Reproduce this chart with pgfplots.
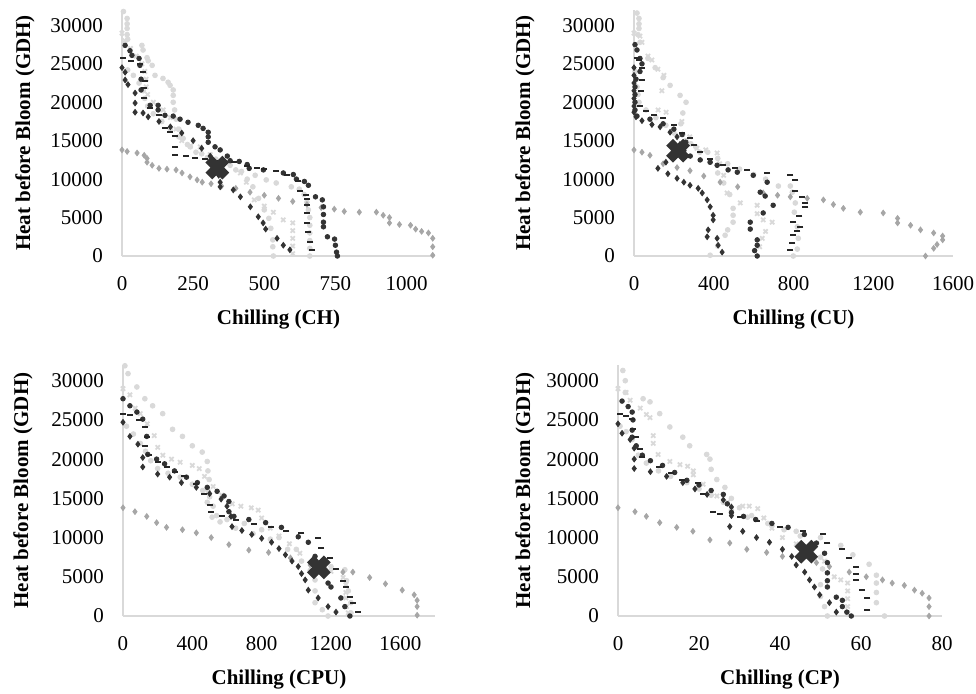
\documentclass[border=0pt]{standalone}
\usepackage{fontspec}
\setmainfont{Liberation Serif}
\usepackage{pgfplots}
\pgfplotsset{compat=1.18}

\definecolor{dk}{HTML}{333333}
\definecolor{dsh}{HTML}{262626}
\definecolor{lt}{HTML}{D9D9D9}
\definecolor{md}{HTML}{A6A6A6}
\definecolor{axc}{HTML}{D9D9D9}

\pgfplotsset{
  chill/.style={
    scale only axis,
    axis x line*=bottom, axis y line*=left,
    axis line style={draw=axc, line width=1pt},
    ymin=0, ymax=32000, ytick={0,5000,...,30000},
    scaled ticks=false,
    /pgf/number format/1000 sep={},
    /pgf/number format/assume math mode=true,
    major tick length=0pt,
    tick label style={font=\fontsize{10.5}{12}\selectfont},
    yticklabel style={xshift=-6pt},
    xticklabel style={yshift=-6.5pt},
    every axis x label/.style={at={(axis description cs:0.5,0)}, anchor=center, yshift=-32pt,
      font=\bfseries\fontsize{10.5}{12}\selectfont},
    every axis y label/.style={at={(axis description cs:0,0.5)}, rotate=90, anchor=center,
      font=\bfseries\fontsize{10.5}{12}\selectfont},
    ylabel={Heat before Bloom (GDH)},
    clip=false,
  },
  ltc/.style={only marks, mark=*, mark size=1.2pt, color=lt},
  ltx/.style={only marks, mark=x, mark size=1.5pt, line width=0.9pt, color=lt},
  mdd/.style={only marks, mark=diamond*, mark size=1.4pt, color=md},
  dkc/.style={only marks, mark=*, mark size=1.15pt, color=dk},
  dkd/.style={only marks, mark=diamond*, mark size=1.4pt, color=dk},
  dsh/.style={only marks, mark=-, mark size=1.5pt, line width=1pt, color=dsh},
  bigx/.style={only marks, mark=x, mark size=6pt, line width=4.8pt, color=dk},
}

\begin{document}
\begin{tikzpicture}
\path[use as bounding box] (0,0) rectangle (488pt,346.5pt);

% ---------- CH ----------
\begin{axis}[chill, at={(61pt,218.5pt)}, anchor=south west, width=156.5pt, height=123pt,
  xmin=0, xmax=1100, xtick={0,250,...,1000}, xlabel={Chilling (CH)},
  ylabel style={yshift=48.5pt}]
\addplot[ltc] coordinates {(5,31800) (18,30900) (18,30200) (18,29600) (18,28800) (20,28200) (70,27400) (74,26800) (88,25800) (92,25400) (106,24800) (116,23500) (144,23100) (162,22600) (169,22200) (180,21600) (180,20900) (180,20000) (185,19000) (190,17800) (200,16500) (215,15300) (240,14200) (280,13300) (330,12600) (380,11800) (420,11000) (440,10000) (460,9000) (480,7500) (500,6000) (516,4900) (523,3600) (530,2100) (530,1200) (532,0)};
\addplot[ltc] coordinates {(20,24200) (40,23500) (60,22500) (75,21500) (80,20500) (90,19500) (110,18500) (140,17500) (170,16500) (200,15500) (230,14500) (260,13500) (300,12800) (350,12000) (400,11200) (468,10500) (507,9900) (542,9500) (595,9000) (623,8700) (640,8000) (650,7000) (655,6000) (660,5000) (660,4000) (660,3000) (660,2000) (660,1000) (660,0)};
\addplot[ltx] coordinates {(0,29000) (10,28000) (30,27000) (50,26000) (70,25000) (80,24000) (85,23000) (85,22000) (90,21000) (110,20000) (145,19000) (170,18000) (190,16500) (210,15000) (240,14300) (275,14200) (310,13200) (350,12300) (416,10800) (437,9600) (465,7300) (500,6500) (532,5700) (567,4700) (600,4300) (600,3300) (600,2300) (600,1300) (600,300)};
\addplot[mdd] coordinates {(0,13800) (18,13600) (53,13400) (78,13100) (88,12700) (88,12200) (106,11800) (130,11400) (158,11300) (190,11200) (211,10800) (239,10300) (264,9900) (282,9600) (313,9400) (350,9100) (400,8800) (450,8300) (500,7900) (550,7500) (600,7100) (650,6700) (700,6300) (746,6100) (781,5800) (834,5700) (894,5700) (918,5300) (940,5000) (940,4300) (975,4100) (1014,4000) (1032,3500) (1053,3200) (1077,3000) (1092,2300) (1092,1200) (1092,100)};
\addplot[dkd] coordinates {(0,24500) (11,23900) (11,22900) (21,22300) (46,21200) (46,19900) (46,18700) (74,18600) (92,18100) (130,17500) (170,16800) (210,16000) (250,15000) (280,14000) (310,13000) (335,12000) (340,10500) (345,9600) (345,9000) (391,8600) (416,7700) (451,6400) (479,5100) (496,4300) (505,3500) (545,2300) (567,1400) (590,800)};
\addplot[dkc] coordinates {(11,27400) (28,26700) (35,26100) (60,25700) (63,24800) (67,23000) (67,21600) (99,19600) (127,19600) (127,19000) (151,18300) (180,18200) (204,17800) (232,17400) (268,17000) (285,16600) (303,16100) (303,15500) (303,14800) (327,14200) (345,13800) (370,13000) (380,12400) (412,12300) (440,11900) (447,11400) (497,11200) (567,10800) (602,10600) (613,10000) (641,9700) (655,9200) (680,7700) (704,7300) (708,6400) (708,5400) (708,4400) (708,3800) (722,2500) (747,2200) (750,1400) (754,500) (757,0)};
\addplot[dsh] coordinates {(4,25700) (32,25400) (63,25000) (74,23900) (81,22800) (78,21900) (78,20600) (99,19300) (130,18400) (151,16700) (169,16100) (187,15600) (187,14200) (187,13100) (225,13000) (257,12700) (292,12600) (330,12400) (394,12200) (440,11700) (475,11400) (500,11300) (542,11000) (580,10500) (620,9700) (627,8500) (648,7900) (651,7400) (651,6600) (651,5600) (651,4300) (655,3100) (662,1800) (666,800)};
\addplot[bigx] coordinates {(335,11500)};
\end{axis}

% ---------- CU ----------
\begin{axis}[chill, at={(317pt,218.5pt)}, anchor=south west, width=159.5pt, height=123pt,
  xmin=0, xmax=1600, xtick={0,400,...,1600}, xlabel={Chilling (CU)},
  ylabel style={yshift=54.5pt}]
\addplot[ltc] coordinates {(15,31600) (25,30900) (25,30200) (25,29600) (20,28800) (30,27800) (70,25700) (106,24500) (146,23200) (181,22200) (231,20900) (261,20000) (245,18600) (235,17200) (245,15800) (285,14600) (330,13500) (380,12200) (420,10800) (450,9500) (480,8000) (497,6200) (497,5300) (497,4400) (470,3400) (457,2700) (420,1300) (382,100)};
\addplot[ltc] coordinates {(5,24000) (10,23000) (15,22000) (20,21000) (25,20000) (60,19000) (110,18000) (160,17000) (200,16000) (260,15000) (310,14200) (370,13500) (420,12700) (470,12000) (530,11300) (600,10600) (660,10000) (724,9100) (784,9100) (794,8300) (809,6900) (804,5700) (819,3800) (824,2300) (819,900) (799,0)};
\addplot[ltx] coordinates {(0,29000) (30,28600) (40,27800) (70,26000) (90,25500) (120,24300) (150,23500) (140,21500) (121,19000) (161,18700) (240,17500) (280,15500) (316,14000) (360,13800) (417,13400) (430,12000) (450,10500) (467,8200) (533,6900) (618,6600) (618,5500) (648,4700) (693,4400) (660,3200) (643,2300) (630,1200)};
\addplot[mdd] coordinates {(0,13800) (40,13500) (80,13100) (146,12000) (216,11500) (281,11100) (350,10400) (432,9600) (520,9000) (648,8200) (720,7900) (784,7700) (869,7500) (950,7300) (1000,6700) (1050,6200) (1135,5700) (1250,5600) (1322,4900) (1322,4300) (1387,4000) (1437,3400) (1503,3000) (1548,2600) (1548,2100) (1520,1500) (1503,1000) (1462,0)};
\addplot[dkd] coordinates {(0,24500) (0,23500) (0,22500) (0,21500) (0,20500) (0,19500) (0,18700) (10,18100) (40,17600) (90,17100) (131,16800) (181,16100) (216,15500) (230,14500) (200,13200) (160,12200) (120,11400) (170,10700) (216,10100) (250,9600) (281,9200) (322,8800) (342,8200) (367,7300) (382,6400) (397,5300) (397,4700) (372,3400) (367,2500) (417,2300) (422,1400) (442,500)};
\addplot[dkc] coordinates {(5,27500) (15,26800) (30,25700) (40,25000) (30,24000) (10,23000) (5,22000) (5,21000) (5,20000) (5,19000) (15,18200) (80,17800) (146,17200) (200,16500) (241,15800) (260,14800) (250,13700) (282,13000) (332,12500) (382,12200) (417,11800) (472,11200) (518,10900) (598,10500) (668,9600) (633,8300) (658,7800) (698,6600) (648,5600) (583,4400) (583,3500) (618,2100) (618,1400) (605,700) (618,0)};
\addplot[dsh] coordinates {(15,25700) (25,25500) (40,24500) (40,22900) (35,21500) (30,19500) (60,18800) (100,18300) (146,17900) (200,17000) (241,16000) (281,15300) (300,14500) (330,13500) (380,12600) (447,11800) (508,11500) (568,11200) (668,10800) (784,10500) (809,9900) (809,8400) (844,7700) (859,6900) (859,6400) (830,5200) (799,4400) (834,3800) (820,3200) (799,2700) (794,1700) (784,800)};
\addplot[bigx] coordinates {(221,13700)};
\end{axis}

% ---------- CPU ----------
\begin{axis}[chill, at={(61.5pt,38.5pt)}, anchor=south west, width=156pt, height=125.5pt,
  xmin=0, xmax=1800, xtick={0,400,...,1600}, xlabel={Chilling (CPU)},
  ylabel style={yshift=50pt}]
\addplot[ltc] coordinates {(11,31900) (29,30900) (80,29200) (126,27700) (171,26800) (229,25800) (286,23800) (343,22900) (400,21700) (457,20900) (486,19700) (490,18500) (497,17400) (490,16000) (486,14500) (514,12600) (560,12000) (650,11200) (750,10500) (850,9800) (950,8500) (1030,7000) (1080,5800) (1108,4600) (1108,3200) (1108,1700) (1150,800) (1183,0)};
\addplot[ltc] coordinates {(20,24200) (60,23200) (100,22000) (130,21000) (160,19800) (200,18800) (260,18200) (330,17700) (400,16800) (460,16000) (500,15200) (520,14000) (540,12800) (600,12300) (700,11800) (800,11000) (900,10000) (1000,8500) (1100,7200) (1200,6300) (1280,5900) (1290,4500) (1300,3200) (1315,1700) (1315,400)};
\addplot[ltx] coordinates {(0,29000) (40,28200) (70,26500) (100,25800) (140,24500) (180,23000) (200,21500) (230,20500) (280,20000) (330,19600) (400,19200) (440,18800) (470,17800) (520,16500) (570,15400) (630,14300) (680,14000) (740,13800) (780,13500) (800,12500) (850,11200) (900,10200) (960,9200) (1020,8000) (1100,6800) (1200,5700) (1270,4900) (1286,4000) (1286,3000) (1286,2300) (1290,1200) (1300,400)};
\addplot[mdd] coordinates {(0,13800) (69,13300) (137,12700) (194,11900) (251,11300) (343,11000) (423,10600) (509,10000) (611,9100) (726,8400) (840,8100) (966,7400) (1080,6500) (1171,5900) (1269,5600) (1326,5600) (1423,4900) (1514,4100) (1611,3300) (1680,2700) (1697,2000) (1697,1200) (1697,100)};
\addplot[dkd] coordinates {(0,24700) (40,22900) (86,21900) (114,20200) (114,19000) (200,18100) (269,17700) (337,17000) (423,16400) (500,15600) (566,14900) (600,14000) (623,12700) (629,11400) (686,10900) (743,10400) (800,9900) (857,9400) (900,8600) (937,7800) (975,7000) (1011,6300) (1030,5400) (1051,4600) (1069,3300) (1126,2300) (1183,1200) (1229,500)};
\addplot[dkc] coordinates {(0,27700) (40,26800) (80,26000) (114,25100) (137,22900) (143,20600) (194,20000) (240,19400) (297,18500) (366,17700) (429,17000) (486,16400) (543,15900) (583,15300) (611,14600) (611,13300) (640,12700) (726,12300) (823,11900) (914,11300) (1011,10100) (1069,9400) (1108,7600) (1154,5600) (1183,4200) (1200,3700) (1257,2300) (1280,1200) (1309,0)};
\addplot[dsh] coordinates {(0,25800) (40,25600) (90,25000) (126,24100) (137,22800) (126,21700) (150,20500) (200,19600) (251,19000) (300,18400) (354,17800) (420,16800) (470,15500) (500,14200) (509,13300) (571,12700) (650,12300) (754,11700) (851,11300) (943,10800) (1029,10600) (1126,10000) (1143,8700) (1194,7400) (1230,6000) (1269,4400) (1286,3700) (1309,2400) (1326,1700) (1354,500)};
\addplot[bigx] coordinates {(1130,6200)};
\end{axis}

% ---------- CP ----------
\begin{axis}[chill, at={(309pt,38.5pt)}, anchor=south west, width=162pt, height=125.5pt,
  xmin=0, xmax=80, xtick={0,20,...,80}, xlabel={Chilling (CP)},
  ylabel style={yshift=46.5pt}]
\addplot[ltc] coordinates {(1.2,31300) (1.8,30000) (1.8,28500) (6.2,27700) (7.9,27300) (10.3,25800) (12.8,24100) (16,22800) (17.7,21700) (21.9,20600) (22.7,20000) (23,18700) (24.4,17400) (26.4,16400) (28,15000) (30,13800) (33,12800) (37,11800) (41,11000) (45,10200) (48,9000) (50,7500) (50.5,6000) (50,4000) (50,2500) (51,1200) (51.7,0)};
\addplot[ltc] coordinates {(0.5,24200) (2,23500) (3.5,22500) (4.5,21500) (5,20500) (7,19500) (10,18500) (13,17800) (17,17000) (20,16200) (23,15400) (26,14500) (28,13500) (32,12600) (38,11500) (44,10800) (50,10000) (55,9000) (58,7800) (62,6600) (63.8,5200) (63.8,4200) (63.8,3000) (63.8,1700) (65.8,0)};
\addplot[ltx] coordinates {(0,29000) (2,28500) (3,27500) (5.5,26500) (7,25700) (7.9,25300) (8.7,23000) (8.7,22000) (9.9,20600) (12.8,19700) (15.3,19300) (17.2,19100) (18.6,18500) (18.6,18000) (21,16800) (24.4,15300) (27,14500) (30.8,14000) (32.4,14000) (34.5,13700) (36,12500) (38,11200) (40.6,10000) (44,9200) (48,8200) (51,7000) (53.4,5000) (55,4600) (56.7,4200) (56.7,3200) (56.7,2200) (56.7,1200) (56.7,400)};
\addplot[mdd] coordinates {(0,13800) (4.2,13300) (7,12700) (10.3,11900) (14.5,11300) (18.5,10800) (22.7,9700) (27.6,9300) (31.8,8500) (36.7,8100) (40.6,7600) (45,7200) (49,6800) (52.2,6300) (57.1,5600) (61.3,5000) (65.3,4600) (67.7,4200) (70.7,3900) (73.2,3300) (75.1,2900) (76.8,2300) (76.8,1200) (76.8,0)};
\addplot[dkd] coordinates {(0,24500) (1,23300) (3,22500) (4,21400) (4,20000) (4,18800) (8,18400) (12,17800) (16,17000) (19,16200) (22,15500) (26,14800) (28,13900) (28,12800) (27.6,11400) (30.8,10800) (34.2,10000) (37.4,9400) (40.6,8500) (42.9,7600) (44,6500) (46.1,5600) (47.3,4600) (48.5,3700) (49.8,2700) (52.2,1700) (53.9,500)};
\addplot[dkc] coordinates {(1,27400) (2.5,26700) (3.5,26000) (3.7,25000) (3.5,23700) (3.5,22800) (4.5,21700) (6,20500) (8,19800) (11,19200) (14,18300) (17,17300) (20,16700) (23,16000) (26,15500) (27,14300) (28,13200) (31,12700) (34,12300) (38,11800) (42,11300) (46,10400) (49,9300) (51,8000) (51.7,6800) (51.7,5500) (51.7,4500) (51.7,3700) (53.9,2400) (55.4,2000) (55.4,1200) (56.5,500) (57.6,0)};
\addplot[dsh] coordinates {(0.5,25800) (2,25500) (3.4,25100) (3.7,23800) (4.5,22800) (5.4,21300) (6,20300) (10,19000) (13,18200) (15.8,17400) (19.7,17000) (21,15500) (23.4,13200) (25.1,13000) (30,12600) (34.2,12100) (39.9,11400) (45.6,10800) (50.5,10400) (51.7,9300) (55.2,8500) (57.1,7400) (58.8,6300) (58.8,5400) (58.8,4600) (60.3,3300) (61.6,2300) (61.6,800)};
\addplot[bigx] coordinates {(46.5,8200)};
\end{axis}
\end{tikzpicture}
\end{document}
